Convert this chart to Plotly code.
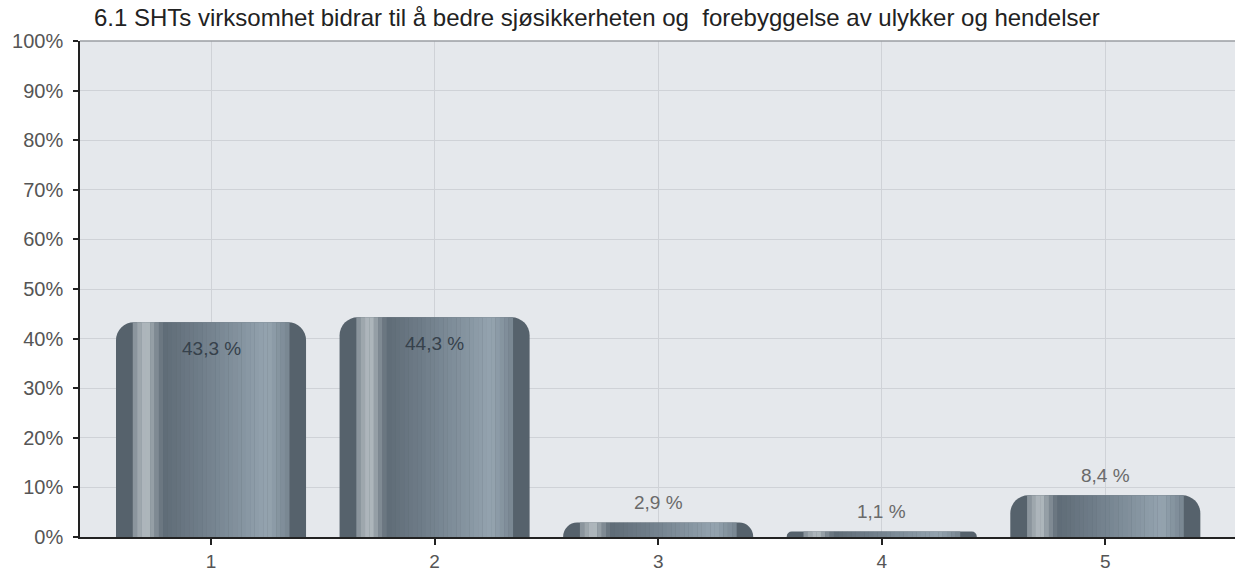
import plotly.graph_objects as go

categories = ["1", "2", "3", "4", "5"]
values = [43.3, 44.3, 2.9, 1.1, 8.4]
value_labels = ["43,3 %", "44,3 %", "2,9 %", "1,1 %", "8,4 %"]
label_inside = [True, True, False, False, False]
y_ticks = [0, 10, 20, 30, 40, 50, 60, 70, 80, 90, 100]
y_tick_labels = ["0%", "10%", "20%", "30%", "40%", "50%", "60%", "70%", "80%", "90%", "100%"]
title_text = "6.1 SHTs virksomhet bidrar til å bedre sjøsikkerheten og \u00a0forebyggelse av ulykker og hendelser"

FONT = "Arial, 'Liberation Sans', sans-serif"
BAR_W = 0.85

# horizontal shading profile (fraction across bar, colour)
profile = [
    (0.00, (0x4e, 0x59, 0x63)),
    (0.06, (0x6a, 0x76, 0x80)),
    (0.12, (0x9c, 0xa5, 0xac)),
    (0.16, (0xb6, 0xbe, 0xc3)),
    (0.20, (0x8c, 0x96, 0x9e)),
    (0.25, (0x5f, 0x6c, 0x77)),
    (0.45, (0x70, 0x7e, 0x8a)),
    (0.65, (0x84, 0x93, 0x9f)),
    (0.80, (0x95, 0xa4, 0xb0)),
    (0.90, (0x7a, 0x88, 0x93)),
    (0.96, (0x58, 0x64, 0x6e)),
    (1.00, (0x45, 0x50, 0x59)),
]


def shade(f):
    for (f0, c0), (f1, c1) in zip(profile[:-1], profile[1:]):
        if f0 <= f <= f1:
            t = (f - f0) / (f1 - f0) if f1 > f0 else 0
            c = [round(a + (b - a) * t) for a, b in zip(c0, c1)]
            return "rgb(%d,%d,%d)" % tuple(c)
    return "rgb(%d,%d,%d)" % profile[-1][1]


fig = go.Figure()
fig.add_trace(go.Bar(
    x=categories, y=values, width=BAR_W,
    marker=dict(color="#56626c", line=dict(width=0), cornerradius=18),
    hoverinfo="skip", showlegend=False,
))

n_strips = 36
inner = 0.35
sw = 2 * inner / n_strips
for i in range(n_strips):
    off = -inner + i * sw
    f = (off + sw / 2 + BAR_W / 2) / BAR_W
    fig.add_trace(go.Bar(
        x=categories, y=values, width=sw * 1.05, offset=off,
        marker=dict(color=shade(f), line=dict(width=0)),
        hoverinfo="skip", showlegend=False,
    ))

for idx, (v, lab, ins) in enumerate(zip(values, value_labels, label_inside)):
    fig.add_annotation(
        x=idx, y=v, text=lab, showarrow=False,
        yshift=-26 if ins else 20,
        font=dict(family=FONT, size=19, color="#36414b" if ins else "#6a6a6a"),
    )

fig.add_shape(type="line", xref="paper", yref="paper", x0=0, x1=1, y0=1, y1=1,
              line=dict(color="#9a9ea3", width=1.5))

fig.update_layout(
    width=1235, height=576,
    margin=dict(l=80, r=0, t=41, b=39),
    paper_bgcolor="white",
    plot_bgcolor="#e5e8ec",
    barmode="overlay",
    title=dict(text=title_text, x=94 / 1235, xanchor="left", xref="container",
               y=1 - 18 / 576, yanchor="middle", yref="container",
               font=dict(family=FONT, size=24, color="#222222")),
    xaxis=dict(
        type="category", range=[-0.586, 4.58],
        showgrid=True, gridcolor="#cfd2d7", gridwidth=1,
        showline=True, linecolor="#222222", linewidth=1.5,
        ticks="outside", ticklen=6, tickcolor="#222222", tickwidth=1.5,
        tickfont=dict(family=FONT, size=19, color="#555555"),
        zeroline=False,
    ),
    yaxis=dict(
        range=[0, 100], tickvals=y_ticks, ticktext=y_tick_labels,
        showgrid=True, gridcolor="#cfd2d7", gridwidth=1,
        showline=True, linecolor="#222222", linewidth=1.5,
        ticks="outside", ticklen=5, tickcolor="#222222", tickwidth=1.5,
        tickfont=dict(family=FONT, size=20, color="#555555"),
        ticklabelstandoff=6,
        zeroline=False,
    ),
)

fig.write_html(
    "out.html",
    config={"displayModeBar": False},
    post_script="document.body.style.margin='0';document.body.style.overflow='hidden';",
)
